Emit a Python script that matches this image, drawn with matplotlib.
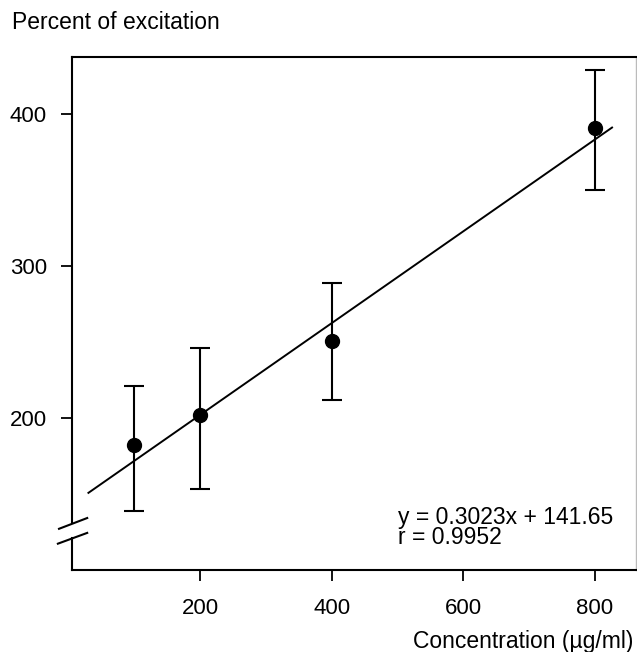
import matplotlib.pyplot as plt
import numpy as np

plt.rcParams['font.family'] = ['Liberation Sans', 'DejaVu Sans']

concentration = [100, 200, 400, 800]
excitation = [182, 202, 251, 391]
err_low = [139, 153, 212, 350]
err_high = [221, 246, 289, 429]

slope, intercept = 0.3023, 141.65
fit_x = np.array([30, 826])

fig = plt.figure(figsize=(6.37, 6.52), dpi=100)
ax = fig.add_axes([0.113, 0.126, 0.885, 0.787])

yerr = [np.array(excitation) - np.array(err_low), np.array(err_high) - np.array(excitation)]
ax.errorbar(concentration, excitation, yerr=yerr, fmt='o', color='black', markersize=10,
            elinewidth=1.5, capsize=7, capthick=1.5, zorder=3)
ax.plot(fit_x, slope * fit_x + intercept, color='black', linewidth=1.4)

ax.set_xlim(5, 862)
ax.set_ylim(100, 438)
ax.set_xticks([200, 400, 600, 800])
ax.set_yticks([200, 300, 400])
ax.tick_params(direction='out', length=8, width=1.3, labelsize=16)
ax.tick_params(axis='x', pad=12)
ax.tick_params(axis='y', pad=10)

# broken left axis
ax.spines['left'].set_visible(False)
ax.spines['right'].set_color('#bbbbbb')
ax.spines['right'].set_linewidth(1)
for s in ['top', 'bottom']:
    ax.spines[s].set_linewidth(1.5)
kw = dict(transform=ax.transAxes, color='black', linewidth=1.5, clip_on=False)
ax.plot([0, 0], [0.094, 1], **kw)
ax.plot([0, 0], [0, 0.062], **kw)
ax.plot([-0.023, 0.027], [0.080, 0.101], **kw)
ax.plot([-0.025, 0.027], [0.051, 0.072], **kw)

ax.text(0.578, 0.082, "y = 0.3023x + 141.65\nr = 0.9952", transform=ax.transAxes,
        fontsize=16.5, linespacing=0.85, va='center', ha='left')

fig.text(0.019, 0.965, "Percent of excitation", fontsize=16.5, ha='left', va='center')
fig.text(0.994, 0.016, "Concentration (\u00b5g/ml)", fontsize=16.5, ha='right', va='center')

fig.savefig("out.png", dpi=100)
